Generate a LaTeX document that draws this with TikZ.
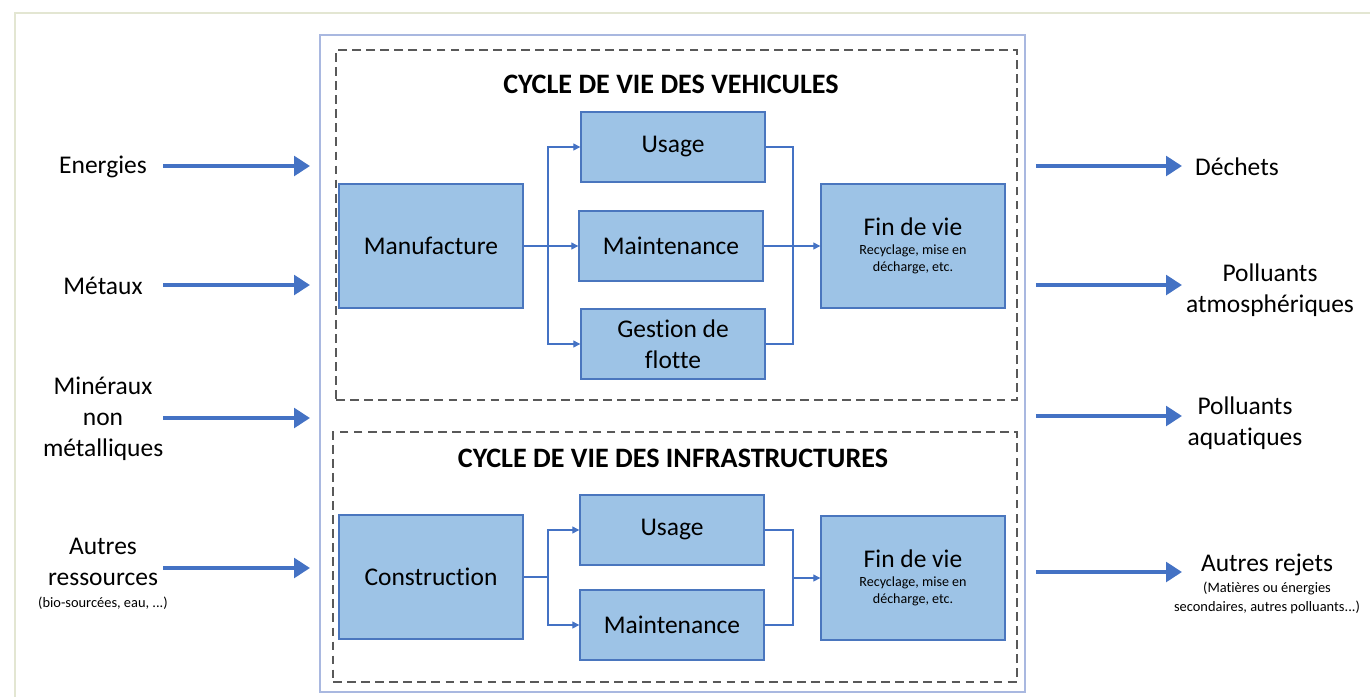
\documentclass[tikz,border=0pt]{standalone}
\usepackage{fontspec}
\setmainfont{Carlito}[RawFeature={-liga}]
\usetikzlibrary{positioning,arrows.meta}

\definecolor{boxfill}{HTML}{9DC3E6}
\definecolor{boxline}{HTML}{4A76BE}
\definecolor{flowblue}{HTML}{4472C4}
\definecolor{framebl}{HTML}{A9B8E0}
\definecolor{paperline}{HTML}{E3E6D2}
\newcommand{\notetxt}{\fontsize{8.2}{10}\selectfont\spaceskip=0pt\xspaceskip=0pt}
\newcommand{\subtxt}{\fontsize{8}{10}\selectfont}

\begin{document}
\begin{tikzpicture}[
    x=0.02cm, y=-0.02cm,
    every node/.style={font=\fontsize{14.5}{17.5}\selectfont},
    procbox/.style={draw=boxline, fill=boxfill, line width=0.8pt, minimum width=3.68cm, minimum height=1.4cm, align=center, inner sep=2pt},
    bigbox/.style={procbox, minimum height=2.48cm},
    cycleframe/.style={draw=black!65, line width=0.9pt, dash pattern=on 5pt off 3pt},
    sysframe/.style={draw=framebl, line width=1pt},
    flow/.style={draw=flowblue, line width=2.8pt, -{Triangle[length=9pt,width=11pt]}},
    link/.style={draw=flowblue, line width=0.7pt},
    linkarrow/.style={link, -{Triangle[length=4pt,width=4pt]}},
    cycletitle/.style={font=\fontsize{16}{19}\selectfont\bfseries},
    inlabel/.style={align=center, text width=2.4cm, inner sep=0pt},
    outlabel/.style={align=center}
]
\useasboundingbox (0,0) rectangle (1370,697);
\draw[paperline, line width=1.2pt] (15,697) -- (15,13) -- (1370,13);

% frames
\node[sysframe, minimum width=14.1cm, minimum height=13.14cm] (system) at (672.5,363.5) {};
\node[cycleframe, minimum width=13.62cm, minimum height=7cm] (vehframe) at (676.5,225) {};
\node[cycleframe, minimum width=13.68cm, minimum height=5cm] (infraframe) at (675,557) {};

\node[cycletitle] (vehtitle) at (671,84) {CYCLE DE VIE DES VEHICULES};
\node[cycletitle] (infratitle) at (673,458) {CYCLE DE VIE DES INFRASTRUCTURES};

% vehicules
\node[bigbox] (manuf) at (431,246) {Manufacture};
\node[procbox] (usage1) at (673,147) {Usage};
\node[procbox] (maint1) at (671,246) {Maintenance};
\node[procbox] (gestion) at (673,344) {Gestion de\\flotte};
\node[bigbox] (fin1) at (913,246) {Fin de vie\\[-7pt]{\subtxt Recyclage, mise en}\\[-7.5pt]{\subtxt d\'echarge, etc.}};

\coordinate (split1) at (548,246);
\coordinate (merge1) at (793,246);
\draw[link] (manuf) -- (split1);
\draw[linkarrow] (split1) |- (usage1);
\draw[linkarrow] (split1) -- (maint1);
\draw[linkarrow] (split1) |- (gestion);
\draw[link] (usage1) -| (merge1);
\draw[link] (gestion) -| (merge1);
\draw[linkarrow] (maint1) -- (fin1);

% infrastructures
\node[bigbox] (constr) at (431,577) {Construction};
\node[procbox] (usage2) at (672,530) {Usage};
\node[procbox] (maint2) at (672,625) {Maintenance};
\node[bigbox] (fin2) at (913,578) {Fin de vie\\[-7pt]{\subtxt Recyclage, mise en}\\[-7.5pt]{\subtxt d\'echarge, etc.}};

\coordinate (split2) at (548,577);
\coordinate (merge2) at (793,578);
\draw[link] (constr) -- (split2);
\draw[linkarrow] (split2) |- (usage2);
\draw[linkarrow] (split2) |- (maint2);
\draw[link] (usage2) -| (merge2);
\draw[link] (maint2) -| (merge2);
\draw[linkarrow] (merge2) -- (fin2);

% entrees
\node[inlabel] (energies) at (103,167) {Energies};
\node[inlabel] (metaux) at (103,286) {Métaux};
\node[inlabel] (mineraux) at (103,419) {Minéraux\\non\\métalliques};
\node[inlabel] (autres) at (103,574) {Autres\\ressources\\[-4.5pt]{\notetxt\makebox[0pt][c]{(bio-sourcées, eau, ...)}}};

\coordinate (in1) at (310,166);
\coordinate (in2) at (310,285);
\coordinate (in3) at (310,418);
\coordinate (in4) at (310,568);
\draw[flow] (energies.east |- in1) -- (in1);
\draw[flow] (metaux.east |- in2) -- (in2);
\draw[flow] (mineraux.east |- in3) -- (in3);
\draw[flow] (autres.east |- in4) -- (in4);

% sorties
\node[outlabel] (dechets) at (1237,167) {Déchets};
\node[outlabel] (atmo) at (1270,290) {Polluants\\atmosphériques};
\node[outlabel] (aqua) at (1245,423) {Polluants\\aquatiques};
\node[outlabel] (rejets) at (1267,584) {Autres rejets\\[-5.5pt]{\notetxt (Matières ou énergies}\\[-7pt]{\notetxt secondaires, autres polluants...)}};

\coordinate (out1) at (1182,166);
\coordinate (out2) at (1182,285);
\coordinate (out3) at (1182,416);
\coordinate (out4) at (1182,572);
\draw[flow, shorten <=0.2cm] (system.east |- out1) -- (out1);
\draw[flow, shorten <=0.2cm] (system.east |- out2) -- (out2);
\draw[flow, shorten <=0.2cm] (system.east |- out3) -- (out3);
\draw[flow, shorten <=0.2cm] (system.east |- out4) -- (out4);
\end{tikzpicture}
\end{document}
